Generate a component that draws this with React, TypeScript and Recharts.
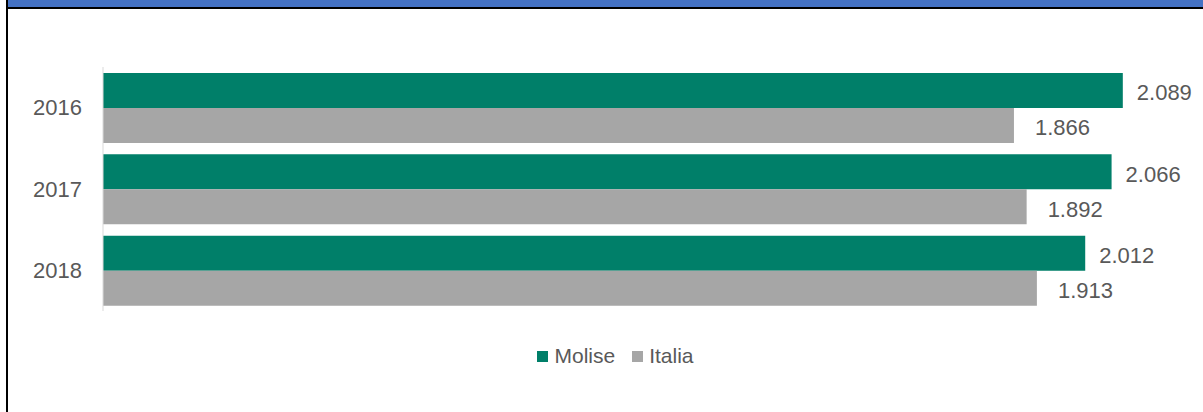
import { BarChart, Bar, XAxis, YAxis, LabelList } from "recharts";

const years = ["2016", "2017", "2018"];
const molise = [2089, 2066, 2012];
const italia = [1866, 1892, 1913];

const GREEN = "#007F69";
const GRAY = "#A6A6A6";
const TEXT = "#595959";
const FONT = "'Liberation Sans', Arial, sans-serif";

// thousands separator with a dot, as in the original (2.089)
const fmt = (v: number) => String(v).replace(/\B(?=(\d{3})+(?!\d))/g, ".");

const data = years.map((year, i) => ({
  year,
  molise: molise[i],
  italia: italia[i]
}));

function LegendBox() {
  const items = [
    { name: "Molise", color: GREEN },
    { name: "Italia", color: GRAY }
  ];
  return (
    <div
      style={{
        position: "absolute",
        top: 344,
        left: 0,
        width: 1231,
        display: "flex",
        justifyContent: "center",
        fontFamily: FONT,
        fontSize: 21,
        color: TEXT
      }}
    >
      {items.map((it, i) => (
        <div key={it.name} style={{ display: "flex", alignItems: "center", marginLeft: i ? 17 : 0 }}>
          <span style={{ width: 11, height: 11, background: it.color, marginRight: 6, display: "inline-block" }} />
          {it.name}
        </div>
      ))}
    </div>
  );
}

export default function App() {
  return (
    <div style={{ position: "absolute", top: 0, left: 0, width: 1203, height: 412, background: "#fff", overflow: "hidden" }}>
      {/* header strip and frame */}
      <div style={{ position: "absolute", top: 0, left: 8, width: 1195, height: 7, background: "#4472C4" }} />
      <div style={{ position: "absolute", top: 7, left: 8, width: 1195, height: 2, background: "#000" }} />
      <div style={{ position: "absolute", top: 0, left: 6, width: 2, height: 412, background: "#000" }} />

      <div style={{ position: "absolute", top: 0, left: 0 }}>
        <BarChart
          width={1203}
          height={412}
          data={data}
          layout="vertical"
          margin={{ top: 67, right: 26, bottom: 101, left: 0 }}
          barCategoryGap="7.4%"
          barGap={0}
        >
          <XAxis type="number" domain={[0, 2200]} hide />
          <YAxis
            type="category"
            dataKey="year"
            width={103}
            tickLine={false}
            tickSize={0}
            tickMargin={21}
            axisLine={{ stroke: "#D9D9D9", strokeWidth: 1 }}
            tick={{ fill: TEXT, fontSize: 22, fontFamily: FONT }}
          />
          <Bar dataKey="molise" fill={GREEN} isAnimationActive={false}>
            <LabelList
              dataKey="molise"
              position="right"
              offset={14}
              dy={2}
              formatter={(v: number) => fmt(v)}
              style={{ fill: TEXT, fontSize: 22, fontFamily: FONT }}
            />
          </Bar>
          <Bar dataKey="italia" fill={GRAY} isAnimationActive={false}>
            <LabelList
              dataKey="italia"
              position="right"
              offset={21}
              dy={2}
              formatter={(v: number) => fmt(v)}
              style={{ fill: TEXT, fontSize: 22, fontFamily: FONT }}
            />
          </Bar>
        </BarChart>
      </div>
      <LegendBox />
    </div>
  );
}
